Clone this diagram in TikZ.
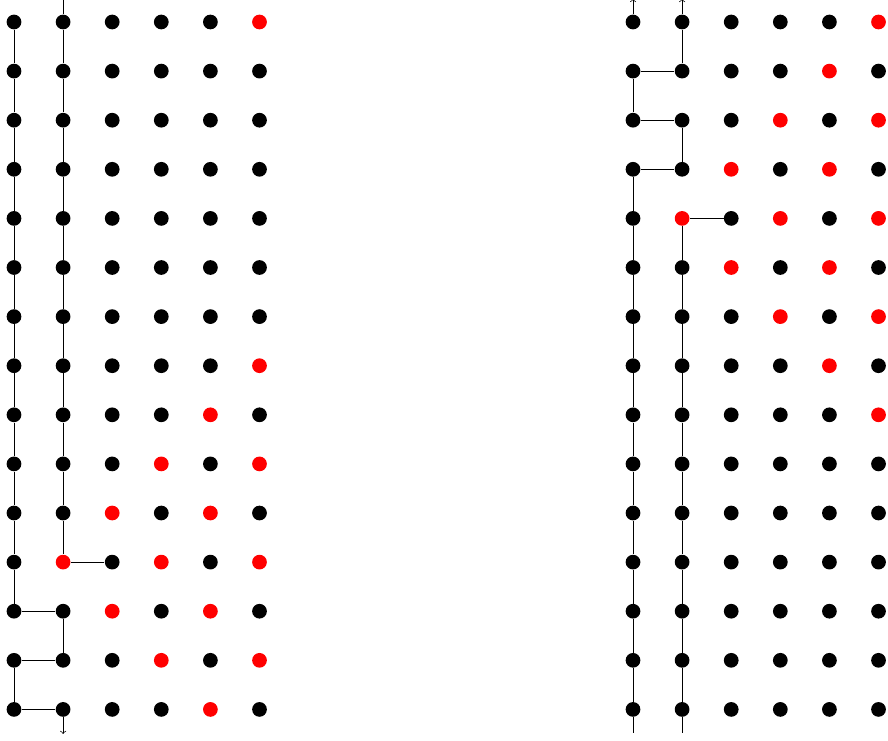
\documentclass[tikz,border=0pt]{standalone}
\usepackage{tikz}
\usetikzlibrary{arrows}

\begin{document}
\begin{tikzpicture}[scale=1.0,
        dot/.style={circle, inner sep=0pt, minimum size=0.3cm, fill=#1},
        dot/.default=black]
        % Khung hình
        \useasboundingbox (-0.285,-14.623) rectangle (17.8,0.448);
        \clip (-0.285,-14.623) rectangle (17.8,0.448);

        % Các điểm đỏ (trái và phải)
        \foreach \r/\c in {0/5,7/5,8/4,9/3,9/5,10/2,10/4,11/1,11/3,11/5,12/2,12/4,13/3,13/5,14/4}
            {\expandafter\gdef\csname redL-\r-\c\endcsname{}}
        \foreach \r/\c in {0/5,1/4,2/3,2/5,3/2,3/4,4/1,4/3,4/5,5/2,5/4,6/3,6/5,7/4,8/5}
            {\expandafter\gdef\csname redR-\r-\c\endcsname{}}

        % Lưới trái
        \foreach \r in {0,...,14} {
            \foreach \c in {0,...,5} {
                \ifcsname redL-\r-\c\endcsname \def\dotcol{red}\else \def\dotcol{black}\fi
                \node[dot=\dotcol] (L-\r-\c) at (\c,-\r) {};
            }
        }

        % Lưới phải
        \foreach \r in {0,...,14} {
            \foreach \c in {0,...,5} {
                \ifcsname redR-\r-\c\endcsname \def\dotcol{red}\else \def\dotcol{black}\fi
                \node[dot=\dotcol] (R-\r-\c) at ({\c+12.607},-\r) {};
            }
        }

        % Đầu mút tự do
        \coordinate (Ltop) at (1,0.8);
        \coordinate (Lbot) at (1,-14.5);
        \coordinate (R0top) at (12.607,0.47);
        \coordinate (R1top) at (13.607,0.47);
        \coordinate (R0bot) at (12.607,-14.48);
        \coordinate (R1bot) at (13.607,-14.48);

        % Đường đi bên trái
        \draw (Ltop) -- (L-0-1);
        \foreach \r in {0,...,10} {
            \pgfmathtruncatemacro{\s}{\r+1}
            \draw (L-\r-1) -- (L-\s-1);
        }
        \draw (L-11-1) -- (L-11-2);
        \foreach \r in {0,...,11} {
            \pgfmathtruncatemacro{\s}{\r+1}
            \draw (L-\r-0) -- (L-\s-0);
        }
        \draw (L-12-0) -- (L-12-1) -- (L-13-1) -- (L-13-0) -- (L-14-0) -- (L-14-1);
        \draw[->] (L-14-1) -- (Lbot);

        % Đường đi bên phải
        \draw[->] (R-0-0) -- (R0top);
        \draw[->] (R-0-1) -- (R1top);
        \draw (R-0-1) -- (R-1-1) -- (R-1-0) -- (R-2-0) -- (R-2-1) -- (R-3-1) -- (R-3-0);
        \foreach \r in {3,...,13} {
            \pgfmathtruncatemacro{\s}{\r+1}
            \draw (R-\r-0) -- (R-\s-0);
        }
        \draw (R-14-0) -- (R0bot);
        \draw (R-4-1) -- (R-4-2);
        \foreach \r in {4,...,13} {
            \pgfmathtruncatemacro{\s}{\r+1}
            \draw (R-\r-1) -- (R-\s-1);
        }
        \draw (R-14-1) -- (R1bot);
      \end{tikzpicture}
\end{document}
